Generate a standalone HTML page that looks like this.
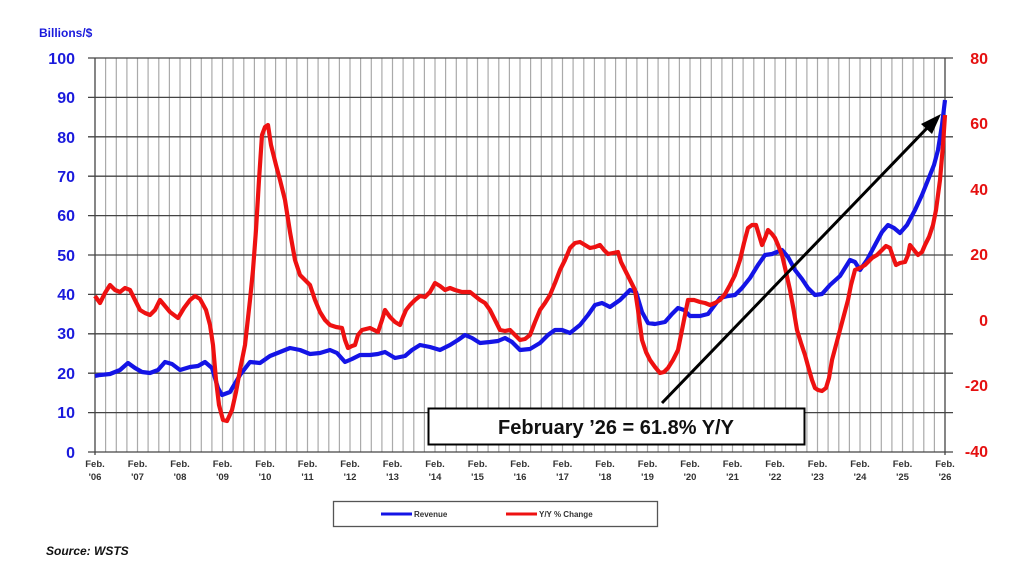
<!DOCTYPE html>
<html><head><style>body{margin:0;background:#fff}svg{display:block;font-family:"Liberation Sans",Arial,sans-serif;font-weight:bold}</style></head><body>
<svg width="1024" height="576" viewBox="0 0 1024 576" xmlns="http://www.w3.org/2000/svg">
<g stroke="#aaa" stroke-width="1.2">
<path d="M105.6 58V452M116.3 58V452M126.9 58V452M137.5 58V452M148.1 58V452M158.8 58V452M169.4 58V452M180 58V452M190.6 58V452M201.3 58V452M211.9 58V452M222.5 58V452M233.1 58V452M243.8 58V452M254.4 58V452M265 58V452M275.6 58V452M286.3 58V452M296.9 58V452M307.5 58V452M318.1 58V452M328.8 58V452M339.4 58V452M350 58V452M360.6 58V452M371.3 58V452M381.9 58V452M392.5 58V452M403.1 58V452M413.8 58V452M424.4 58V452M435 58V452M445.6 58V452M456.3 58V452M466.9 58V452M477.5 58V452M488.1 58V452M498.8 58V452M509.4 58V452M520 58V452M530.6 58V452M541.3 58V452M551.9 58V452M562.5 58V452M573.1 58V452M583.8 58V452M594.4 58V452M605 58V452M615.6 58V452M626.3 58V452M636.9 58V452M647.5 58V452M658.1 58V452M668.8 58V452M679.4 58V452M690 58V452M700.6 58V452M711.3 58V452M721.9 58V452M732.5 58V452M743.1 58V452M753.8 58V452M764.4 58V452M775 58V452M785.6 58V452M796.3 58V452M806.9 58V452M817.5 58V452M828.1 58V452M838.8 58V452M849.4 58V452M860 58V452M870.6 58V452M881.3 58V452M891.9 58V452M902.5 58V452M913.1 58V452M923.8 58V452M934.4 58V452"/>
</g>
<g stroke="#444" stroke-width="1.3">
<path d="M88 58H953M88 97.4H953M88 136.8H953M88 176.2H953M88 215.6H953M88 255H953M88 294.4H953M88 333.8H953M88 373.2H953M88 412.6H953"/>
<path d="M95 58V455M945 58V455M88 452H953"/>
</g>
<g font-size="16" fill="#1a1adc" text-anchor="end">
<text x="75" y="64">100</text><text x="75" y="103">90</text><text x="75" y="143">80</text><text x="75" y="182">70</text><text x="75" y="221">60</text><text x="75" y="261">50</text><text x="75" y="300">40</text><text x="75" y="339">30</text><text x="75" y="379">20</text><text x="75" y="418">10</text><text x="75" y="458">0</text>
</g>
<text x="39" y="37" font-size="12" fill="#1a1adc">Billions/$</text>
<g font-size="16" fill="#e51010" text-anchor="end">
<text x="988" y="64">80</text><text x="988" y="129">60</text><text x="988" y="195">40</text><text x="988" y="260">20</text><text x="988" y="326">0</text><text x="988" y="391">-20</text><text x="988" y="457">-40</text>
</g>
<g font-size="9.5" fill="#333" text-anchor="middle">
<text x="95" y="467">Feb.</text><text x="95" y="480">'06</text>
<text x="137.5" y="467">Feb.</text><text x="137.5" y="480">'07</text>
<text x="180" y="467">Feb.</text><text x="180" y="480">'08</text>
<text x="222.5" y="467">Feb.</text><text x="222.5" y="480">'09</text>
<text x="265" y="467">Feb.</text><text x="265" y="480">'10</text>
<text x="307.5" y="467">Feb.</text><text x="307.5" y="480">'11</text>
<text x="350" y="467">Feb.</text><text x="350" y="480">'12</text>
<text x="392.5" y="467">Feb.</text><text x="392.5" y="480">'13</text>
<text x="435" y="467">Feb.</text><text x="435" y="480">'14</text>
<text x="477.5" y="467">Feb.</text><text x="477.5" y="480">'15</text>
<text x="520" y="467">Feb.</text><text x="520" y="480">'16</text>
<text x="562.5" y="467">Feb.</text><text x="562.5" y="480">'17</text>
<text x="605" y="467">Feb.</text><text x="605" y="480">'18</text>
<text x="647.5" y="467">Feb.</text><text x="647.5" y="480">'19</text>
<text x="690" y="467">Feb.</text><text x="690" y="480">'20</text>
<text x="732.5" y="467">Feb.</text><text x="732.5" y="480">'21</text>
<text x="775" y="467">Feb.</text><text x="775" y="480">'22</text>
<text x="817.5" y="467">Feb.</text><text x="817.5" y="480">'23</text>
<text x="860" y="467">Feb.</text><text x="860" y="480">'24</text>
<text x="902.5" y="467">Feb.</text><text x="902.5" y="480">'25</text>
<text x="945" y="467">Feb.</text><text x="945" y="480">'26</text>
</g>
<polyline fill="none" stroke="#1414e6" stroke-width="4.2" stroke-linejoin="round" points="95,376 100,375 110,374 120,370 128,363 135,368 142,372 150,373 158,370 165,362 172,364 180,370 190,367 198,366 205,362 212,368 218,388 222,395 230,392 240,375 250,362 260,363 270,356 280,352 290,348 300,350 310,354 320,353 330,350 337,353 345,362 352,359 360,355 370,355 378,354 385,352 395,358 405,356 412,350 420,345 430,347 440,350 450,345 458,340 465,335 472,338 480,343 490,342 498,341 505,338 512,342 520,350 530,349 540,343 548,335 555,330 562,330 570,333 580,325 588,315 595,305 602,303 610,307 620,300 630,290 636,292 642,312 648,323 655,324 665,322 672,314 678,308 684,310 690,316 700,316 708,314 714,306 720,298 728,296 735,295 742,288 750,278 758,265 765,255 772,254 782,250 788,257 795,270 802,279 808,288 815,295 822,294 830,285 840,276 850,260 855,262 860,270 867,260 875,245 882,232 888,225 894,228 900,233 907,225 915,210 922,195 928,180 934,165 938,150 942,125 945,100"/>
<polyline fill="none" stroke="#ee1111" stroke-width="4.2" stroke-linejoin="round" points="95,296 100,303 105,293 110,285 115,290 120,292 125,288 130,290 135,300 140,310 145,313 150,315 155,310 160,300 165,306 170,312 178,318 184,308 190,300 195,296 200,299 206,310 210,325 213,345 216,380 219,405 223,420 227,421 232,410 236,392 240,370 245,345 250,300 253,270 256,230 259,180 262,135 265,127 268,125 271,145 276,165 280,180 285,200 290,232 295,260 300,275 305,280 310,285 315,300 320,312 325,320 330,325 336,327 342,328 345,340 348,348 352,346 355,345 358,335 362,330 370,328 378,332 382,320 385,310 390,317 395,322 400,325 403,317 406,310 410,305 415,300 420,296 425,297 430,292 435,283 440,286 445,290 450,288 455,290 462,292 470,292 475,296 480,300 485,303 490,310 495,320 500,330 505,331 510,330 515,335 520,340 525,339 530,335 535,322 540,310 545,303 550,295 555,283 560,270 565,260 570,248 575,243 580,242 585,245 590,248 595,247 600,245 604,250 608,254 613,253 618,252 621,262 625,270 630,280 635,290 638,310 642,340 646,352 650,360 655,367 660,373 664,372 668,368 673,360 678,350 683,325 688,300 694,300 700,302 705,303 710,305 715,303 720,300 725,294 730,285 735,275 740,260 744,243 748,228 752,225 756,225 759,235 762,245 765,238 768,230 772,234 775,238 778,245 782,255 786,272 790,290 794,312 797,330 801,343 805,355 808,366 812,380 815,388 818,390 822,391 826,388 829,378 832,360 836,345 840,330 844,315 848,300 851,285 855,270 860,268 865,265 868,262 872,258 877,255 882,250 886,246 890,248 893,257 896,265 900,263 905,262 908,255 910,245 914,250 918,255 922,252 925,245 929,237 933,225 936,210 940,180 943,145 945,115"/>
<line x1="662" y1="403" x2="930" y2="125" stroke="#000" stroke-width="3"/>
<polygon points="941,114 921,124 932,134" fill="#000"/>
<rect x="428.5" y="408.5" width="376" height="36" fill="#fff" stroke="#000" stroke-width="2"/>
<text x="616" y="434" font-size="20" text-anchor="middle" fill="#111">February ’26 = 61.8% Y/Y</text>
<rect x="333.5" y="501.5" width="324" height="25" fill="#fff" stroke="#555" stroke-width="1.3"/>
<line x1="381" y1="514" x2="412" y2="514" stroke="#1414e6" stroke-width="3"/>
<text x="414" y="517" font-size="8" fill="#333">Revenue</text>
<line x1="506" y1="514" x2="537" y2="514" stroke="#ee1111" stroke-width="3"/>
<text x="539" y="517" font-size="8" fill="#333">Y/Y % Change</text>
<text x="46" y="555" font-size="12" font-style="italic" fill="#111">Source: WSTS</text>
</svg>
</body></html>
